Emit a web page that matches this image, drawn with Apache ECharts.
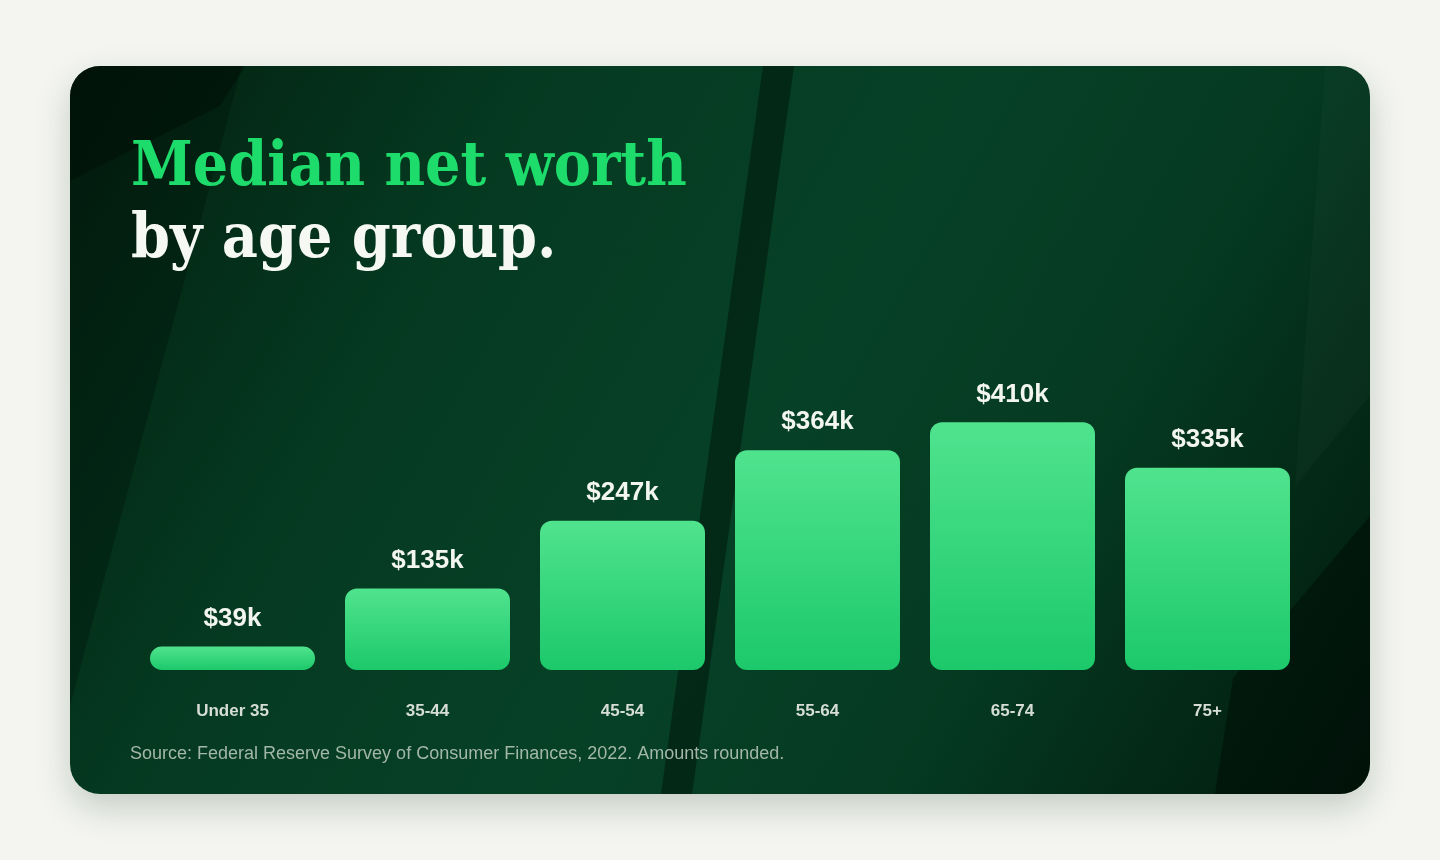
<!DOCTYPE html>
<html>
<head>
<meta charset="utf-8">
<script src="https://cdn.jsdelivr.net/npm/echarts@6/dist/echarts.min.js"></script>
<style>
  html, body {
    margin: 0;
    width: 1440px;
    height: 860px;
    background: #f4f5f1;
    overflow: hidden;
  }
  .card {
    position: absolute;
    left: 70px;
    top: 66px;
    width: 1300px;
    height: 728px;
    border-radius: 30px;
    overflow: hidden;
    background: linear-gradient(120deg, #03200f 0%, #053a21 28%, #064126 52%, #053a21 72%, #02190d 100%);
    box-shadow: 0 14px 34px rgba(30, 70, 40, 0.22);
  }
  #chart {
    width: 1300px;
    height: 728px;
  }
</style>
</head>
<body>
<div class="card">
  <div id="chart"></div>
</div>
<script>
// age groups and median net worth (thousands of dollars)
const categories = ['Under 35', '35-44', '45-54', '55-64', '65-74', '75+']
const netWorth = [39, 135, 247, 364, 410, 335]
const titleLine1 = 'Median net worth'
const titleLine2 = 'by age group.'
const sourceNote = 'Source: Federal Reserve Survey of Consumer Finances, 2022. Amounts rounded.'

const chart = echarts.init(document.getElementById('chart'))

const titleFont = "'DejaVu Serif Condensed', 'DejaVu Serif', serif"

const option = {
  animation: false,
  title: {
    text: titleLine1,
    subtext: titleLine2,
    left: 56,
    top: 62,
    itemGap: 0,
    textStyle: {
      fontFamily: titleFont,
      fontWeight: 'bold',
      fontSize: 62,
      lineHeight: 72,
      color: '#1edc6c'
    },
    subtextStyle: {
      fontFamily: titleFont,
      fontWeight: 'bold',
      fontSize: 62,
      lineHeight: 72,
      color: '#f6f8f3'
    }
  },
  graphic: [
    // background shapes
    {
      type: 'polygon',
      silent: true,
      z: -10,
      shape: { points: [[0, 0], [172, 0], [0, 640]] },
      style: { fill: 'rgba(0, 12, 6, 0.28)' }
    },
    {
      type: 'polygon',
      silent: true,
      z: -10,
      shape: { points: [[0, 0], [175, 0], [150, 40], [0, 115]] },
      style: { fill: 'rgba(0, 8, 4, 0.35)' }
    },
    {
      type: 'polygon',
      silent: true,
      z: -10,
      shape: { points: [[693, 0], [724, 0], [622, 728], [591, 728]] },
      style: { fill: 'rgba(0, 14, 7, 0.45)' }
    },
    {
      type: 'polygon',
      silent: true,
      z: -10,
      shape: { points: [[1255, 0], [1300, 0], [1300, 330], [1225, 420]] },
      style: { fill: 'rgba(255, 255, 255, 0.025)' }
    },
    {
      type: 'polygon',
      silent: true,
      z: -10,
      shape: { points: [[1300, 450], [1300, 728], [1145, 728], [1163, 612]] },
      style: { fill: 'rgba(0, 8, 4, 0.45)' }
    },
    {
      type: 'text',
      left: 60,
      top: 679,
      style: {
        text: sourceNote,
        fontFamily: 'Liberation Sans',
        fontSize: 18,
        fill: '#a3b7a7'
      }
    }
  ],
  grid: {
    left: 65,
    right: 65,
    top: 302,
    bottom: 124
  },
  xAxis: {
    type: 'category',
    data: categories,
    axisLine: { show: false },
    axisTick: { show: false },
    axisLabel: {
      margin: 33,
      fontFamily: 'Liberation Sans',
      fontWeight: 'bold',
      fontSize: 17,
      color: '#d6ddd4'
    }
  },
  yAxis: {
    type: 'value',
    min: 0,
    max: 500,
    show: false,
    splitLine: { show: false }
  },
  series: [
    {
      type: 'bar',
      data: netWorth,
      barWidth: 165,
      itemStyle: {
        borderRadius: 12,
        color: new echarts.graphic.LinearGradient(0, 0, 0, 1, [
          { offset: 0, color: '#50e38e' },
          { offset: 1, color: '#1cc96a' }
        ])
      },
      label: {
        show: true,
        position: 'top',
        distance: 15,
        fontFamily: 'Liberation Sans',
        fontWeight: 'bold',
        fontSize: 26,
        color: '#f2f6ef',
        formatter: (p) => '$' + p.value + 'k'
      }
    }
  ]
}

chart.setOption(option)
</script>
</body>
</html>
